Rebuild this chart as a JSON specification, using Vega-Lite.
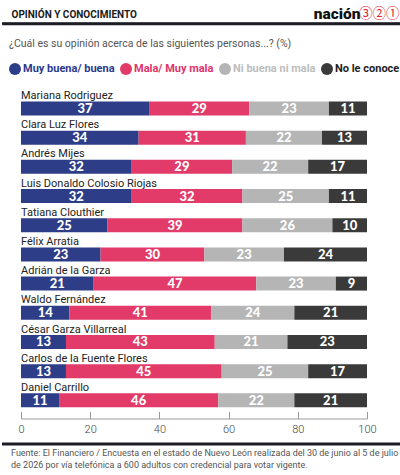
{
  "$schema": "https://vega.github.io/schema/vega-lite/v6.json",
  "background": "white",
  "padding": {"top": 0, "left": 0, "right": 0, "bottom": 0},
  "bounds": "flush",
  "spacing": 63.5,
  "resolve": {"scale": {"color": "independent"}},
  "datasets": {
    "opinion": [
      {"persona": "Mariana Rodriguez", "opinion": "Muy buena/ buena", "pct": 37},
      {"persona": "Mariana Rodriguez", "opinion": "Mala/ Muy mala", "pct": 29},
      {"persona": "Mariana Rodriguez", "opinion": "Ni buena ni mala", "pct": 23},
      {"persona": "Mariana Rodriguez", "opinion": "No le conoce", "pct": 11},
      {"persona": "Clara Luz Flores", "opinion": "Muy buena/ buena", "pct": 34},
      {"persona": "Clara Luz Flores", "opinion": "Mala/ Muy mala", "pct": 31},
      {"persona": "Clara Luz Flores", "opinion": "Ni buena ni mala", "pct": 22},
      {"persona": "Clara Luz Flores", "opinion": "No le conoce", "pct": 13},
      {"persona": "Andrés Mijes", "opinion": "Muy buena/ buena", "pct": 32},
      {"persona": "Andrés Mijes", "opinion": "Mala/ Muy mala", "pct": 29},
      {"persona": "Andrés Mijes", "opinion": "Ni buena ni mala", "pct": 22},
      {"persona": "Andrés Mijes", "opinion": "No le conoce", "pct": 17},
      {"persona": "Luis Donaldo Colosio Riojas", "opinion": "Muy buena/ buena", "pct": 32},
      {"persona": "Luis Donaldo Colosio Riojas", "opinion": "Mala/ Muy mala", "pct": 32},
      {"persona": "Luis Donaldo Colosio Riojas", "opinion": "Ni buena ni mala", "pct": 25},
      {"persona": "Luis Donaldo Colosio Riojas", "opinion": "No le conoce", "pct": 11},
      {"persona": "Tatiana Clouthier", "opinion": "Muy buena/ buena", "pct": 25},
      {"persona": "Tatiana Clouthier", "opinion": "Mala/ Muy mala", "pct": 39},
      {"persona": "Tatiana Clouthier", "opinion": "Ni buena ni mala", "pct": 26},
      {"persona": "Tatiana Clouthier", "opinion": "No le conoce", "pct": 10},
      {"persona": "Félix Arratia", "opinion": "Muy buena/ buena", "pct": 23},
      {"persona": "Félix Arratia", "opinion": "Mala/ Muy mala", "pct": 30},
      {"persona": "Félix Arratia", "opinion": "Ni buena ni mala", "pct": 23},
      {"persona": "Félix Arratia", "opinion": "No le conoce", "pct": 24},
      {"persona": "Adrián de la Garza", "opinion": "Muy buena/ buena", "pct": 21},
      {"persona": "Adrián de la Garza", "opinion": "Mala/ Muy mala", "pct": 47},
      {"persona": "Adrián de la Garza", "opinion": "Ni buena ni mala", "pct": 23},
      {"persona": "Adrián de la Garza", "opinion": "No le conoce", "pct": 9},
      {"persona": "Waldo Fernández", "opinion": "Muy buena/ buena", "pct": 14},
      {"persona": "Waldo Fernández", "opinion": "Mala/ Muy mala", "pct": 41},
      {"persona": "Waldo Fernández", "opinion": "Ni buena ni mala", "pct": 24},
      {"persona": "Waldo Fernández", "opinion": "No le conoce", "pct": 21},
      {"persona": "César Garza Villarreal", "opinion": "Muy buena/ buena", "pct": 13},
      {"persona": "César Garza Villarreal", "opinion": "Mala/ Muy mala", "pct": 43},
      {"persona": "César Garza Villarreal", "opinion": "Ni buena ni mala", "pct": 21},
      {"persona": "César Garza Villarreal", "opinion": "No le conoce", "pct": 23},
      {"persona": "Carlos de la Fuente Flores", "opinion": "Muy buena/ buena", "pct": 13},
      {"persona": "Carlos de la Fuente Flores", "opinion": "Mala/ Muy mala", "pct": 45},
      {"persona": "Carlos de la Fuente Flores", "opinion": "Ni buena ni mala", "pct": 25},
      {"persona": "Carlos de la Fuente Flores", "opinion": "No le conoce", "pct": 17},
      {"persona": "Daniel Carrillo", "opinion": "Muy buena/ buena", "pct": 11},
      {"persona": "Daniel Carrillo", "opinion": "Mala/ Muy mala", "pct": 46},
      {"persona": "Daniel Carrillo", "opinion": "Ni buena ni mala", "pct": 22},
      {"persona": "Daniel Carrillo", "opinion": "No le conoce", "pct": 21}
    ],
    "categorias": [
      {"opinion": "Muy buena/ buena", "rango": 1},
      {"opinion": "Mala/ Muy mala", "rango": 2},
      {"opinion": "Ni buena ni mala", "rango": 3},
      {"opinion": "No le conoce", "rango": 4}
    ]
  },
  "vconcat": [
    {
      "width": 400,
      "height": 23.5,
      "data": {"values": [{}]},
      "mark": {"type": "rule", "color": "#1c1c26", "strokeWidth": 2.5},
      "encoding": {
        "x": {
          "datum": 0,
          "type": "quantitative",
          "scale": {"domain": [0, 1]},
          "axis": {
            "orient": "bottom",
            "values": [1],
            "labelExpr": "'③②①'",
            "domain": true,
            "domainColor": "#1c1c26",
            "domainWidth": 2.5,
            "ticks": false,
            "tickSize": 0,
            "grid": false,
            "labelFlush": false,
            "labelColor": "#e1252f",
            "labelFont": "Noto Sans CJK JP",
            "labelFontSize": 13.5,
            "labelAlign": "right",
            "labelBaseline": "alphabetic",
            "labelPadding": -6.5,
            "labelOffset": -3,
            "title": "nación",
            "titleFont": "Roboto",
            "titleFontSize": 15.5,
            "titleFontWeight": 900,
            "titleColor": "#111111",
            "titleAlign": "right",
            "titleBaseline": "alphabetic",
            "titleX": 358,
            "titleY": -5.5
          }
        },
        "x2": {"datum": 1},
        "y": {
          "datum": 0,
          "type": "quantitative",
          "scale": {"domain": [0, 1]},
          "axis": {
            "orient": "left",
            "labels": false,
            "ticks": false,
            "domain": false,
            "grid": false,
            "minExtent": 0,
            "maxExtent": 0,
            "title": "OPINIÓN Y CONOCIMIENTO",
            "titleAngle": 0,
            "titleAlign": "left",
            "titleBaseline": "alphabetic",
            "titleX": 9,
            "titleY": 17.5,
            "titleFont": "Roboto",
            "titleFontSize": 10,
            "titleFontWeight": 700,
            "titleColor": "#1b1b1b"
          }
        }
      }
    },
    {
      "bounds": "flush",
      "spacing": 35.5,
      "resolve": {"scale": {"color": "independent"}},
      "vconcat": [
        {
          "width": 400,
          "height": 321,
          "data": {"name": "opinion"},
          "transform": [
            {
              "lookup": "opinion",
              "from": {"data": {"name": "categorias"}, "key": "opinion", "fields": ["rango"]}
            }
          ],
          "encoding": {
            "y": {
              "field": "persona",
              "type": "nominal",
              "sort": null,
              "scale": {"paddingInner": 0, "paddingOuter": 0},
              "axis": null
            }
          },
          "layer": [
            {
              "mark": {"type": "bar", "height": 14, "yOffset": 6.4},
              "encoding": {
                "x": {
                  "field": "pct",
                  "type": "quantitative",
                  "stack": "zero",
                  "scale": {"domain": [0, 100], "range": [19, 365]},
                  "axis": {
                    "orient": "bottom",
                    "offset": 10,
                    "values": [0, 20, 40, 60, 80, 100],
                    "tickSize": -7,
                    "tickColor": "#9a9a9a",
                    "domainColor": "#9a9a9a",
                    "grid": false,
                    "title": null,
                    "labelFlush": false,
                    "labelFont": "Roboto",
                    "labelFontSize": 11,
                    "labelFontWeight": 300,
                    "labelColor": "#444444",
                    "labelPadding": 12
                  }
                },
                "color": {
                  "field": "opinion",
                  "type": "nominal",
                  "scale": {
                    "domain": ["Muy buena/ buena", "Mala/ Muy mala", "Ni buena ni mala", "No le conoce"],
                    "range": ["#2e3d88", "#e23b6a", "#b5b5b5", "#3a3a3a"]
                  },
                  "legend": {
                    "orient": "none",
                    "legendX": 7,
                    "legendY": -49,
                    "direction": "horizontal",
                    "padding": 0,
                    "title": "¿Cuál es su opinión acerca de las siguientes personas...? (%)",
                    "titleOrient": "top",
                    "titleAnchor": "start",
                    "titleFont": "Roboto",
                    "titleFontSize": 10.5,
                    "titleFontWeight": 400,
                    "titleColor": "#555555",
                    "titlePadding": 14,
                    "titleLimit": 400,
                    "symbolType": "circle",
                    "symbolSize": 144,
                    "symbolStrokeWidth": 0,
                    "symbolOpacity": 1,
                    "labelFont": "Roboto",
                    "labelFontSize": 11,
                    "labelFontWeight": 700,
                    "labelColor": {"expr": "datum.label === 'Muy buena/ buena' ? '#2a3a8c' : datum.label === 'Mala/ Muy mala' ? '#e0336a' : datum.label === 'Ni buena ni mala' ? '#bdbdbd' : '#1e1e1e'"},
                    "labelOffset": 2,
                    "labelLimit": 200,
                    "columnPadding": 5
                  }
                },
                "order": {"field": "rango"}
              }
            },
            {
              "mark": {
                "type": "text",
                "yOffset": 6.9,
                "color": "white",
                "font": "Lato",
                "fontSize": 13,
                "fontWeight": 900
              },
              "encoding": {
                "x": {"field": "pct", "type": "quantitative", "stack": "zero", "bandPosition": 0.5},
                "detail": {"field": "opinion"},
                "order": {"field": "rango"},
                "text": {"field": "pct", "type": "quantitative"}
              }
            },
            {
              "transform": [{"filter": "datum.rango === 1"}],
              "mark": {
                "type": "text",
                "align": "left",
                "baseline": "middle",
                "yOffset": -6,
                "font": "Roboto",
                "fontSize": 11,
                "color": "#222222"
              },
              "encoding": {
                "x": {"datum": 0},
                "text": {"field": "persona"}
              }
            }
          ]
        },
        {
          "width": 400,
          "height": 1,
          "title": {
            "text": [
              "Fuente: El Financiero / Encuesta en el estado de Nuevo León realizada del 30 de junio al 5 de julio",
              "de 2026 por vía telefónica a 600 adultos con credencial para votar vigente."
            ],
            "orient": "bottom",
            "anchor": "start",
            "frame": "group",
            "dx": 9,
            "offset": 3,
            "font": "Roboto",
            "fontSize": 9,
            "fontWeight": 400,
            "color": "#555555",
            "lineHeight": 12
          },
          "data": {"values": [{}]},
          "mark": {"type": "rule", "color": "#1c1c26", "strokeWidth": 3},
          "encoding": {
            "x": {"datum": 0, "type": "quantitative", "scale": {"domain": [0, 1]}, "axis": null},
            "x2": {"datum": 1},
            "y": {"datum": 1, "type": "quantitative", "scale": {"domain": [0, 1]}, "axis": null}
          }
        }
      ]
    }
  ],
  "config": {
    "view": {"stroke": null},
    "font": "Roboto"
  }
}
